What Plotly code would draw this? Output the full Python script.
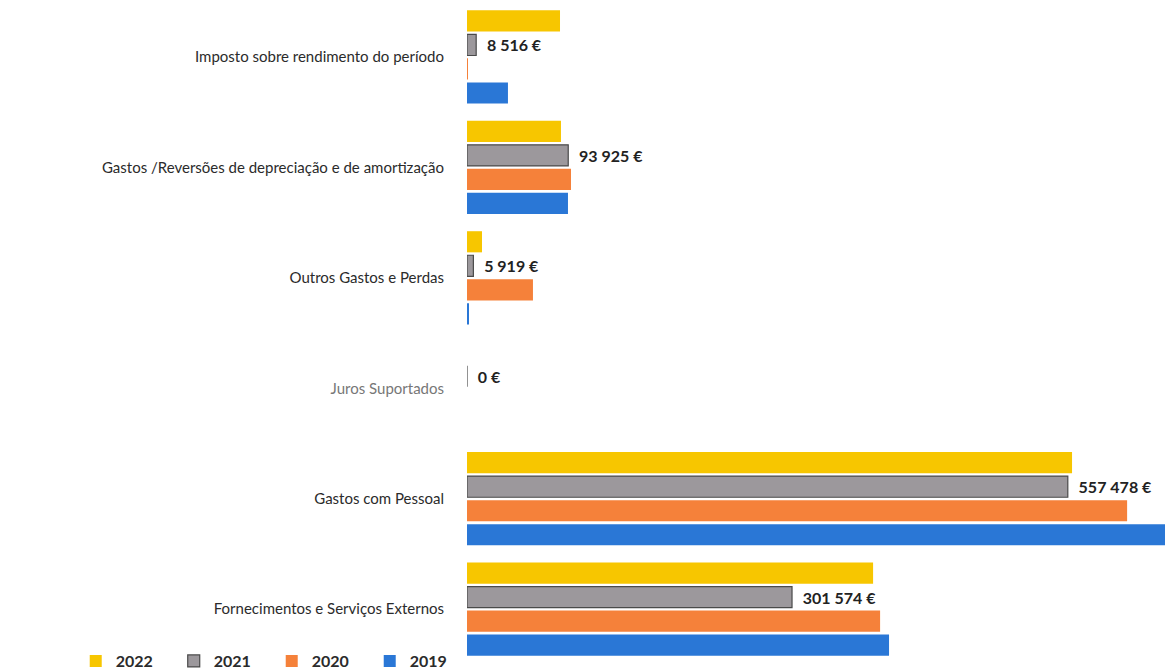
import plotly.graph_objects as go

categories = [
    "Imposto sobre rendimento do período",
    "Gastos /Reversões de depreciação e de amortização",
    "Outros Gastos e Perdas",
    "Juros Suportados",
    "Gastos com Pessoal",
    "Fornecimentos e Serviços Externos",
]
years = ["2022", "2021", "2020", "2019"]
v2022 = [86300, 87200, 13900, 0, 561400, 376800]
v2021 = [8516, 93925, 5919, 0, 557478, 301574]
v2020 = [900, 96500, 61200, 0, 612500, 383300]
v2019 = [38000, 93700, 1800, 0, 680000, 391600]
series = [v2022, v2021, v2020, v2019]
colors = ["#F7C600", "#9C989C", "#F5813A", "#2A77D6"]
line_colors = ["#F7C600", "#4A4A4A", "#F5813A", "#2A77D6"]


def fmt(v):
    return "  " + f"{v:,}".replace(",", " ") + " €"


tick_text = [
    f'<span style="color:#777777">{c}</span>' if c == "Juros Suportados" else c
    for c in categories
]

fig = go.Figure()
for i, (yr, vals) in enumerate(zip(years, series)):
    kw = {}
    if yr == "2021":
        kw = dict(
            text=[fmt(v) for v in vals],
            textposition="outside",
            textfont=dict(family="Lato", size=16, color="#222222", weight="bold"),
            cliponaxis=False,
        )
    fig.add_trace(go.Bar(
        y=categories, x=vals, name=yr, orientation="h",
        marker=dict(color=colors[i], line=dict(color=line_colors[i], width=1.2 if yr == "2021" else 0)),
        **kw,
    ))

fig.update_layout(
    width=1173, height=670,
    barmode="group", bargap=0.13, bargroupgap=0.12,
    plot_bgcolor="white", paper_bgcolor="white",
    margin=dict(l=459, r=0, t=0, b=8),
    font=dict(family="Lato", size=15, color="#2b2b2b"),
    xaxis=dict(range=[0, 662500], showgrid=False, zeroline=False, showticklabels=False, showline=False),
    yaxis=dict(range=[5.542, -0.443], showgrid=False, showline=False, ticks="",
               tickvals=categories, ticktext=tick_text,
               ticklabelstandoff=22, tickfont=dict(family="Lato", size=15, color="#2b2b2b")),
    legend=dict(orientation="h", x=-0.548, xanchor="left", y=-0.014, yanchor="bottom",
                entrywidth=53, font=dict(family="Lato", size=16, color="#2b2b2b", weight="bold"),
                itemwidth=30, traceorder="normal", bgcolor="rgba(0,0,0,0)"),
    showlegend=True,
)

fig.write_html("out.html")
